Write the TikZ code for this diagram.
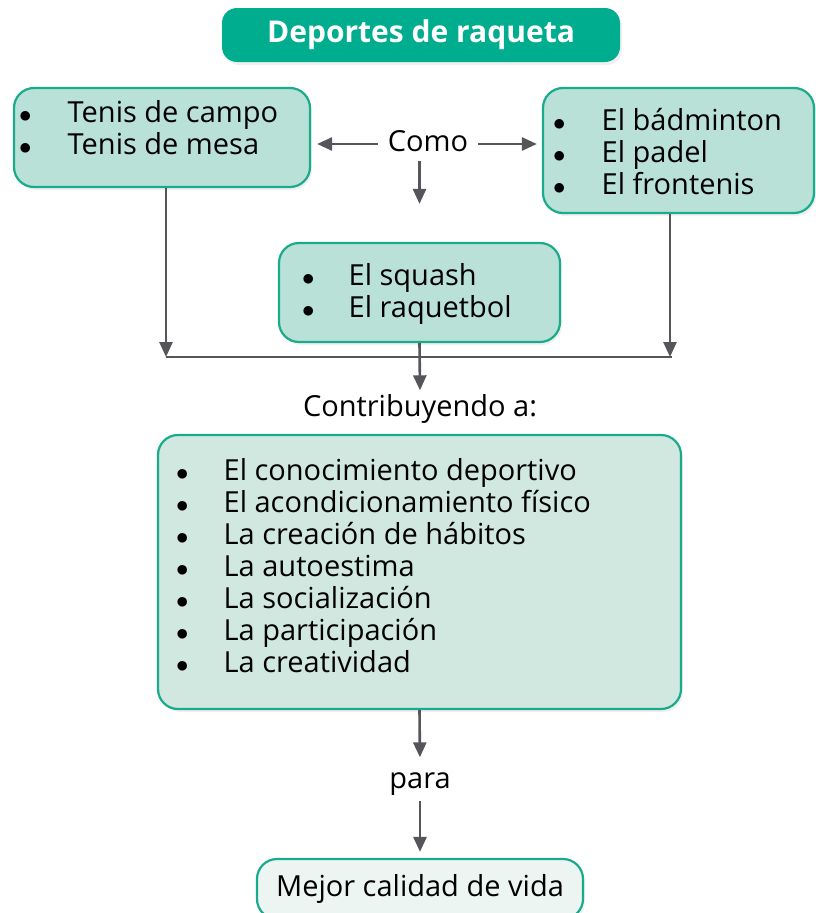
\documentclass[tikz,border=0pt]{standalone}
\usepackage{fontspec}
\setmainfont{Open Sans}
\usetikzlibrary{arrows.meta,shadows}

\definecolor{titlegreen}{RGB}{0,173,142}
\definecolor{boxline}{RGB}{26,170,140}
\definecolor{boxfill}{RGB}{185,225,215}
\definecolor{bigfill}{RGB}{209,232,225}
\definecolor{endfill}{RGB}{236,245,242}
\definecolor{arrowgray}{RGB}{85,85,90}

\tikzset{
  sportbox/.style={draw=boxline, line width=2.2pt, fill=boxfill, rounded corners=20pt,
    drop shadow={opacity=0.12, shadow xshift=2pt, shadow yshift=-3pt}},
  listtext/.style={anchor=west, inner sep=0pt, font=\fontsize{29}{32}\selectfont},
  word/.style={font=\fontsize{29}{32}\selectfont, text height=21pt, text depth=6pt, inner sep=3pt},
  arr/.style={draw=arrowgray, line width=2.6pt, -{Triangle[length=15pt,width=13pt]}},
}
\newcommand{\bul}{$\bullet$}

\begin{document}
\begin{tikzpicture}[x=1pt,y=1pt,yscale=-1,xscale=1]
\useasboundingbox (0,0) rectangle (815,913);

%Shape: Rounded Rectangle (title)
\node [fill=titlegreen, rounded corners=15pt, minimum width=398pt, minimum height=54pt,
  drop shadow={opacity=0.12, shadow xshift=2pt, shadow yshift=-3pt},
  text=white, font=\fontsize{30}{32}\selectfont\bfseries] (titulo) at (421,35) {Deportes de raqueta};

%Shape: Rounded Rectangle
\node [sportbox, minimum width=296pt, minimum height=99pt] (tenis) at (162,137.5) {};
%Shape: Rounded Rectangle
\node [sportbox, minimum width=271pt, minimum height=125pt] (otros) at (678.5,150.5) {};
%Shape: Rounded Rectangle
\node [sportbox, minimum width=281pt, minimum height=99pt] (squash) at (419.5,292.5) {};
%Shape: Rounded Rectangle
\node [sportbox, fill=bigfill, minimum width=523pt, minimum height=274pt] (beneficios) at (419.5,572) {};
%Shape: Rounded Rectangle
\node [sportbox, fill=endfill, minimum width=326pt, minimum height=60pt, word] (calidad) at (420,889) {Mejor calidad de vida};

% Text Node
\node [listtext] (tenistxt) at (19,132) {\begin{tabular}{@{}l@{\hspace{36pt}}l@{}}\bul & Tenis de campo\\ \bul & Tenis de mesa\end{tabular}};
% Text Node
\node [listtext] (otrostxt) at (553,156) {\begin{tabular}{@{}l@{\hspace{36pt}}l@{}}\bul & El bádminton\\ \bul & El padel\\ \bul & El frontenis\end{tabular}};
% Text Node
\node [listtext] (squashtxt) at (302,295) {\begin{tabular}{@{}l@{\hspace{34pt}}l@{}}\bul & El squash\\ \bul & El raquetbol\end{tabular}};
% Text Node
\node [listtext] (beneficiostxt) at (176,570) {\begin{tabular}{@{}l@{\hspace{35pt}}l@{}}
  \bul & El conocimiento deportivo\\
  \bul & El acondicionamiento físico\\
  \bul & La creación de hábitos\\
  \bul & La autoestima\\
  \bul & La socialización\\
  \bul & La participación\\
  \bul & La creatividad\end{tabular}};

% Text Node
\node [word, inner xsep=10pt] (como) at (428,144) {Como};
% Text Node
\node [word] (contrib) at (420,409) {Contribuyendo a:};
% Text Node
\node [word] (para) at (420,781) {para};

\coordinate (jl) at (166,357);
\coordinate (jr) at (670,357);

%Straight Lines
\draw [arr, shorten >=6pt] (como.west) -- (como.west -| tenis.east);
\draw [arr, shorten >=5pt] (como.east) -- (como.east -| otros.west);
\draw [arr, shorten >=38pt] (como.south -| squash.north) -- (squash.north);
%Straight Lines
\draw [arr] (tenis.south -| jl) -- (jl);
\draw [arr] (otros.south -| jr) -- (jr);
\draw [draw=arrowgray, line width=2.6pt] (jl) -- ([xshift=2pt]jr);
\draw [arr, shorten >=2pt] (squash.south) -- (contrib.north);
%Straight Lines
\draw [arr, shorten >=7pt] (beneficios.south) -- (para.north);
\draw [arr, shorten <=3pt, shorten >=6pt] (para.south) -- (calidad.north);

\end{tikzpicture}
\end{document}
